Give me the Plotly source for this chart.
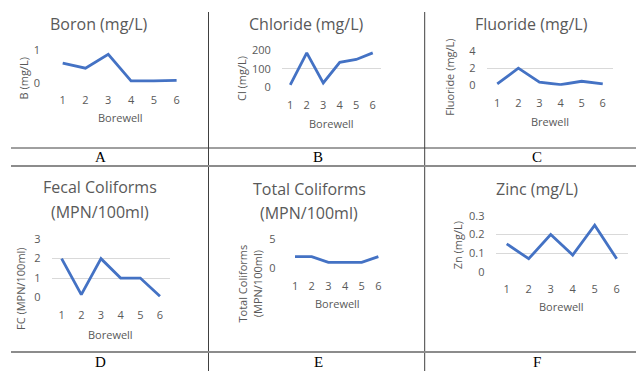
import plotly.graph_objects as go

W, H = 636, 371

borewells = [1, 2, 3, 4, 5, 6]
boron = [0.6, 0.45, 0.87, 0.06, 0.06, 0.08]
chloride = [15, 185, 25, 135, 150, 185]
fluoride = [0.2, 2.0, 0.4, 0.1, 0.5, 0.2]
fecal = [2, 0.15, 2, 1, 1, 0.07]
total_coli = [2, 2, 1, 1, 1, 2]
zinc = [0.15, 0.07, 0.2, 0.09, 0.25, 0.07]

titles = [["Boron (mg/L)"], ["Chloride (mg/L)"], ["Fluoride (mg/L)"],
          ["Fecal Coliforms", "(MPN/100ml)"], ["Total Coliforms", "(MPN/100ml)"], ["Zinc (mg/L)"]]
xtitles = ["Borewell", "Borewell", "Brewell", "Borewell", "Borewell", "Borewell"]
ytitles = [["B (mg/L)"], ["Cl (mg/L)"], ["Fluoride (mg/L)"], ["FC (MPN/100ml)"],
           ["Total Coliforms", "(MPN/100ml)"], ["Zn (mg/L)"]]
yticks = [[0, 1], [0, 100, 200], [0, 2, 4], [0, 1, 2, 3], [0, 5], [0, 0.1, 0.2, 0.3]]
yticktext = [["0", "1"], ["0", "100", "200"], ["0", "2", "4"], ["0", "1", "2", "3"],
             ["0", "5"], ["0", "0.1", "0.2", "0.3"]]
panel_labels = ["A", "B", "C", "D", "E", "F"]
series = [boron, chloride, fluoride, fecal, total_coli, zinc]

# layout geometry in pixels (x0, x1, ytop, ybottom)
plot_boxes = [(51.3, 188, 50, 83), (282, 381, 50, 87.7), (486.7, 613.3, 50.7, 85.7),
              (51.8, 169.8, 239, 297.7), (286.7, 386.7, 239, 268.3), (495.7, 627.7, 215.7, 272)]
title_pos = [(99, [24]), (306, [24]), (531, [24]), (100, [186.7, 212.3]),
             (309, [189, 212.7]), (536.7, [189.3])]
xtitle_pos = [(120, 117), (331, 123), (550, 121.7), (110, 334), (337, 303.3), (561.7, 306.7)]
ytitle_pos = [([23], 78.5), ([241], 79), ([450], 76.7), ([20.7], 288.3), ([242, 257.7], 283.5), ([457.3], 245)]
# (x, y, yanchor)
label_pos = [(100, 157, "middle"), (318, 157, "middle"), (537, 157, "middle"),
             (100, 370.5, "bottom"), (318, 370.5, "bottom"), (537, 370.5, "bottom")]

def fx(x):
    return x / W

def fy(y):
    return 1 - y / H

GRAY = "#595959"
FONT = "Open Sans"

fig = go.Figure()
annotations = []
layout = {}
for i in range(6):
    n = "" if i == 0 else str(i + 1)
    x0, x1, yt, yb = plot_boxes[i]
    fig.add_trace(go.Scatter(x=borewells, y=series[i], mode="lines",
                             line=dict(color="#4472C4", width=2.8),
                             xaxis="x" + n, yaxis="y" + n, showlegend=False,
                             hoverinfo="skip"))
    ymax = yticks[i][-1]
    layout["xaxis" + n] = dict(domain=[fx(x0), fx(x1)], anchor="y" + n, range=[0.5, 6.5],
                               tickvals=borewells, showgrid=False, zeroline=False,
                               showline=False, ticks="outside", ticklen=7,
                               tickcolor="rgba(0,0,0,0)", automargin=False,
                               tickfont=dict(family=FONT, size=11, color=GRAY))
    layout["yaxis" + n] = dict(domain=[fy(yb), fy(yt)], anchor="x" + n,
                               range=[-ymax * 0.003, ymax * 1.003],
                               tickvals=yticks[i], ticktext=yticktext[i],
                               showgrid=True, gridcolor="#D9D9D9", gridwidth=1,
                               zeroline=False, showline=False, ticks="outside", ticklen=8,
                               tickcolor="rgba(0,0,0,0)", automargin=False,
                               tickfont=dict(family=FONT, size=11, color=GRAY))
    tx, tys = title_pos[i]
    for line, ty in zip(titles[i], tys):
        annotations.append(dict(x=fx(tx), y=fy(ty), xref="paper", yref="paper", text=line,
                                showarrow=False, xanchor="center", yanchor="middle",
                                font=dict(family=FONT, size=16, color=GRAY)))
    ax, ay = xtitle_pos[i]
    annotations.append(dict(x=fx(ax), y=fy(ay), xref="paper", yref="paper", text=xtitles[i],
                            showarrow=False, xanchor="center", yanchor="middle",
                            font=dict(family=FONT, size=11, color=GRAY)))
    yxs, yy = ytitle_pos[i]
    for line, yx in zip(ytitles[i], yxs):
        annotations.append(dict(x=fx(yx), y=fy(yy), xref="paper", yref="paper", text=line,
                                showarrow=False, xanchor="center", yanchor="middle", textangle=-90,
                                font=dict(family=FONT, size=11, color=GRAY)))
    lx, ly, anc = label_pos[i]
    annotations.append(dict(x=fx(lx), y=fy(ly), xref="paper", yref="paper", text=panel_labels[i],
                            showarrow=False, xanchor="center", yanchor=anc, borderpad=0,
                            font=dict(family="Liberation Serif", size=15, color="#000000")))

shapes = []
for vx in [208.5, 424.7]:
    shapes.append(dict(type="line", xref="paper", yref="paper", x0=fx(vx), x1=fx(vx),
                       y0=fy(12), y1=fy(371), line=dict(color="#404040", width=1)))
shapes.append(dict(type="line", xref="paper", yref="paper", x0=fx(11), x1=1,
                   y0=fy(148), y1=fy(148), line=dict(color="#404040", width=1)))
for hy in [166, 352]:
    shapes.append(dict(type="line", xref="paper", yref="paper", x0=fx(11), x1=1,
                       y0=fy(hy), y1=fy(hy), line=dict(color="#8c8c8c", width=2)))

fig.update_layout(width=W, height=H,
                  margin=dict(l=0, r=0, t=0, b=0, pad=0, autoexpand=False),
                  paper_bgcolor="white", plot_bgcolor="white",
                  annotations=annotations, shapes=shapes, **layout)
fig.write_html("out.html")
